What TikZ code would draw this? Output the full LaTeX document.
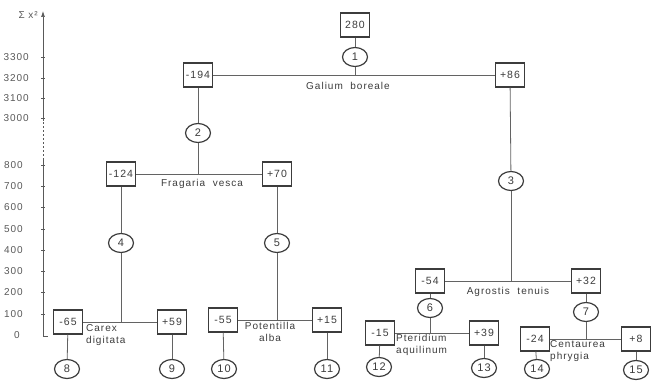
\documentclass[tikz,border=0pt]{standalone}
\usepackage{fontspec}
\setmainfont{Liberation Sans}[LetterSpace=10]
\usetikzlibrary{arrows.meta,shapes.geometric}
\definecolor{ink}{RGB}{60,60,60}

\begin{document}
\begin{tikzpicture}[x=1pt, y=-1pt,
  valbox/.style={draw=ink, line width=1.3pt, fill=white, text=ink, inner sep=0pt,
                 minimum width=29pt, minimum height=24pt, font=\fontsize{10.5}{10.5}\selectfont},
  splitnode/.style={draw=ink, ellipse, line width=1.2pt, fill=white, text=ink, inner sep=0pt,
                    minimum width=25pt, minimum height=19pt, font=\fontsize{11}{11}\selectfont},
  taxon/.style={text=ink, inner sep=0pt, font=\fontsize{10}{12}\selectfont},
  link/.style={draw=ink!80, line width=0.8pt},
  axlabel/.style={text=ink!85, inner sep=0pt, anchor=east, font=\fontsize{10}{10}\selectfont}
]
\fill[white] (0,0) rectangle (651,385);
\useasboundingbox (0,0) rectangle (651,385);

% axis
\coordinate (axtop) at (43,11);
\coordinate (axbrk) at (43,121);
\coordinate (axres) at (43,160);
\coordinate (axbot) at (43,336);
\draw[ink!85, line width=0.7pt, -{Latex[length=6pt,width=4pt]}] (axbrk) -- (axtop);
\draw[ink!85, line width=0.7pt, dash pattern=on 2pt off 2pt] (axres) -- (axbrk);
\draw[ink!85, line width=0.7pt] (axres) -- (axbot) -- ++(5,0);
\node[axlabel, anchor=south east] (sigma) at (38,19) {Σ x²};
\foreach \lab/\yy in {3300/57, 3200/78, 3100/98, 3000/118} {
  \draw[ink!85, line width=0.6pt] (41,\yy) -- (45,\yy);
  \node[axlabel] at (29,\yy) {\lab};
}
\foreach \lab/\yy in {800/165, 700/186, 600/207, 500/229, 400/250, 300/271, 200/292, 100/314} {
  \draw[ink!85, line width=0.6pt] (41,\yy) -- (45,\yy);
  \node[axlabel] at (23,\yy) {\lab};
}
\node[axlabel, anchor=center] at (17,335) {0};

% nodes
\node[valbox] (b280) at (355,25) {280};
\node[splitnode] (c1) at (355,57) {1};
\node[valbox] (b194) at (198,75) {-194};
\node[valbox] (b86) at (510,75) {+86};
\node[splitnode] (c2) at (198,133) {2};
\node[splitnode] (c3) at (511,181) {3};
\node[valbox] (b124) at (121,174) {-124};
\node[valbox] (b70) at (277,174) {+70};
\node[splitnode] (c4) at (121,243) {4};
\node[splitnode] (c5) at (277,243) {5};
\node[valbox] (b65) at (68,322) {-65};
\node[valbox] (b59) at (172,322) {+59};
\node[valbox] (b55) at (223,320) {-55};
\node[valbox] (b15a) at (327,320) {+15};
\node[splitnode] (c8) at (67,369) {8};
\node[splitnode] (c9) at (172,369) {9};
\node[splitnode] (c10) at (224,369) {10};
\node[splitnode] (c11) at (327,369) {11};
\node[valbox] (b54) at (430,281) {-54};
\node[valbox] (b32) at (586,281) {+32};
\node[splitnode] (c6) at (430,308) {6};
\node[splitnode] (c7) at (586,312) {7};
\node[valbox] (b15b) at (380,333) {-15};
\node[valbox] (b39) at (484,333) {+39};
\node[valbox] (b24) at (535,339) {-24};
\node[valbox] (b8) at (636,339) {+8};
\node[splitnode] (c12) at (379,367) {12};
\node[splitnode] (c13) at (484,368) {13};
\node[splitnode] (c14) at (537,369) {14};
\node[splitnode] (c15) at (636,370) {15};

% taxon labels
\node[taxon] (galium) at (348,86) {Galium\ \ boreale};
\node[taxon] (fragaria) at (202,184) {Fragaria\ \ vesca};
\node[taxon, align=left, anchor=west] (carex) at (86,335) {Carex\\digitata};
\node[taxon, align=center] (potentilla) at (270,332) {Potentilla\\alba};
\node[taxon] (agrostis) at (508,292) {Agrostis\ \ tenuis};
\node[taxon, align=left, anchor=west] (pteridium) at (396,345) {Pteridium\\aquilinum};
\node[taxon, align=left, anchor=west] (centaurea) at (550,351) {Centaurea\\phrygia};

% connectors
\draw[link] (b280) -- (c1);
\draw[link] (c1) -- (c1 |- b194);
\draw[link] (b194) -- (b86);
\draw[link] (b194) -- (c2);
\draw[link] (c2) -- (c2 |- b124);
\draw[link] (b124) -- (b70);
\draw[link] (b124) -- (c4);
\draw[link] (c4) -- (c4 |- b65);
\draw[link] (b65) -- (b59);
\draw[link] (b65) -- (c8);
\draw[link] (b59) -- (c9);
\draw[link] (b70) -- (c5);
\draw[link] (c5) -- (c5 |- b55);
\draw[link] (b55) -- (b15a);
\draw[link] (b55) -- (c10);
\draw[link] (b15a) -- (c11);
\draw[link] (b86) -- (c3);
\draw[link] (c3) -- (c3 |- b54);
\draw[link] (b54) -- (b32);
\draw[link] (b54) -- (c6);
\draw[link] (c6) -- (c6 |- b15b);
\draw[link] (b15b) -- (b39);
\draw[link] (b15b) -- (c12);
\draw[link] (b39) -- (c13);
\draw[link] (b32) -- (c7);
\draw[link] (c7) -- (c7 |- b24);
\draw[link] (b24) -- (b8);
\draw[link] (b24) -- (c14);
\draw[link] (b8) -- (c15);
\end{tikzpicture}
\end{document}
